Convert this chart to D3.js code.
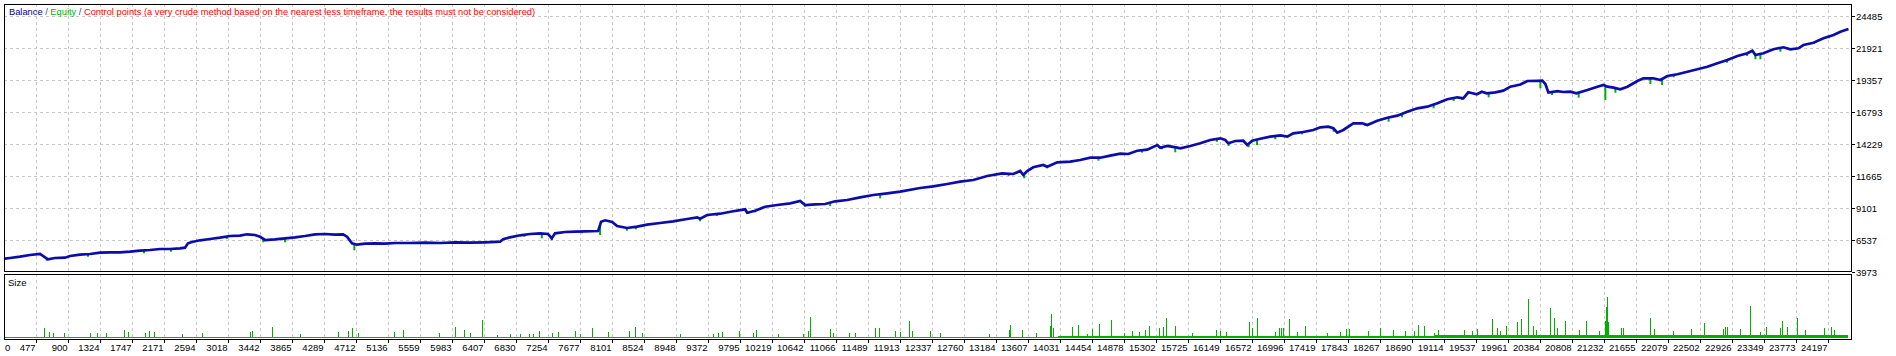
<!DOCTYPE html>
<html>
<head>
<meta charset="utf-8">
<script src="https://cdn.jsdelivr.net/npm/d3@7"></script>
<style>
  body { margin: 0; background: #fff; }
  svg { display: block; }
  text { font-family: "Liberation Sans", Arial, sans-serif; font-size: 9.5px; }
  .legend { font-size: 9.3px; }
</style>
</head>
<body>
<svg id="canvas" width="1896" height="356"></svg>
<script>
// value axis labels (right side)
const yTicks = [3973, 6537, 9101, 11665, 14229, 16793, 19357, 21921, 24485];

// trade number labels (bottom)
const xTicks = [0, 477, 900, 1324, 1747, 2171, 2594, 3018, 3442, 3865, 4289, 4712, 5136, 5559,
  5983, 6407, 6830, 7254, 7677, 8101, 8524, 8948, 9372, 9795, 10219, 10642, 11066, 11489,
  11913, 12337, 12760, 13184, 13607, 14031, 14454, 14878, 15302, 15725, 16149, 16572, 16996,
  17419, 17843, 18267, 18690, 19114, 19537, 19961, 20384, 20808, 21232, 21655, 22079, 22502,
  22926, 23349, 23773, 24197];

// balance: [trade, balance]
const balance = [
  [53, 5039], [132, 5095], [265, 5199], [397, 5335], [530, 5415], [583, 5199], [636, 4991],
  [728, 5095], [861, 5119], [927, 5255], [1059, 5359], [1192, 5415], [1324, 5519], [1456, 5551],
  [1589, 5551], [1721, 5600], [1854, 5680], [1986, 5736], [2118, 5816], [2251, 5816], [2383, 5872],
  [2449, 5920], [2489, 6273], [2542, 6377], [2648, 6513], [2780, 6617], [2913, 6721], [3045, 6858],
  [3178, 6882], [3270, 6994], [3376, 6938], [3442, 6801], [3509, 6537], [3641, 6593], [3773, 6673],
  [3906, 6753], [4038, 6858], [4171, 6994], [4303, 7018], [4435, 6962], [4541, 6994], [4594, 6801],
  [4660, 6273], [4727, 6160], [4833, 6241], [4965, 6273], [5097, 6241], [5230, 6297], [5428, 6297],
  [5627, 6321], [5826, 6297], [6024, 6353], [6223, 6321], [6421, 6353], [6620, 6401], [6660, 6593],
  [6752, 6753], [6885, 6914], [7017, 7018], [7150, 7074], [7255, 7018], [7304, 6673], [7348, 7074],
  [7481, 7178], [7613, 7202], [7745, 7234], [7918, 7258], [7957, 8003], [8010, 8115], [8103, 7979],
  [8169, 7659], [8301, 7499], [8434, 7603], [8566, 7763], [8738, 7899], [8910, 8035], [9096, 8220],
  [9228, 8356], [9268, 8244], [9361, 8540], [9533, 8644], [9705, 8837], [9864, 8997], [9890, 8724],
  [9996, 8885], [10129, 9205], [10287, 9341], [10460, 9478], [10592, 9662], [10658, 9341],
  [10791, 9397], [10923, 9422], [11055, 9638], [11214, 9742], [11386, 9958], [11559, 10143],
  [11744, 10279], [11916, 10407], [12180, 10704], [12353, 10840], [12538, 11024], [12710, 11208],
  [12883, 11345], [13068, 11665], [13266, 11881], [13412, 11825], [13505, 12066], [13545, 11745],
  [13597, 12066], [13677, 12362], [13809, 12546], [13862, 12410], [13995, 12763], [14167, 12811],
  [14299, 12947], [14432, 13131], [14564, 13131], [14696, 13292], [14829, 13452], [14935, 13428],
  [15054, 13692], [15186, 13772], [15319, 14149], [15358, 13933], [15451, 14069], [15583, 13933],
  [15623, 13884], [15756, 14069], [15888, 14285], [16020, 14549], [16153, 14686], [16219, 14549],
  [16259, 14285], [16351, 14469], [16457, 14493], [16510, 14149], [16576, 14493], [16682, 14654],
  [16815, 14814], [16947, 14926], [17040, 14814], [17119, 15086], [17252, 15191], [17384, 15351],
  [17477, 15567], [17583, 15615], [17649, 15487], [17702, 15134], [17781, 15351], [17914, 15888],
  [18033, 15888], [18099, 15751], [18231, 16096], [18364, 16336], [18496, 16497], [18628, 16817],
  [18761, 17089], [18893, 17218], [19026, 17490], [19158, 17811], [19290, 17971], [19370, 17891],
  [19436, 18371], [19549, 18211], [19615, 18420], [19681, 18291], [19794, 18371], [19900, 18500],
  [19992, 18820], [20125, 18996], [20217, 19277], [20350, 19293], [20416, 19301], [20456, 19037],
  [20496, 18355], [20615, 18460], [20694, 18396], [20787, 18420], [20866, 18291], [21012, 18556],
  [21145, 18820], [21224, 18956], [21277, 18820], [21357, 18740], [21449, 18612], [21542, 18820],
  [21674, 19277], [21754, 19493], [21886, 19493], [21978, 19357], [22071, 19678], [22203, 19814],
  [22336, 20022], [22468, 20214], [22600, 20423], [22733, 20695], [22865, 20960], [22998, 21280],
  [23130, 21496], [23196, 21705], [23236, 21360], [23342, 21496], [23475, 21817], [23607, 21977],
  [23700, 21817], [23806, 21897], [23872, 22161], [24005, 22346], [24137, 22698], [24270, 22963],
  [24362, 23227], [24468, 23443]
];

// equity drawdowns below balance: [trade, equity]
const equityDips = [
  [618, 4878], [1165, 5199], [1907, 5471], [2264, 5600], [3001, 6617], [3486, 6353], [3773, 6353],
  [4634, 6457], [4691, 5712], [4965, 6192], [6942, 6801], [7172, 6673], [7304, 6537], [7702, 7074],
  [7944, 6938], [8298, 7282], [8417, 7394], [9268, 8035], [9489, 8460], [9907, 8620], [9996, 8756],
  [10658, 9205], [10989, 9261], [11651, 9878], [12489, 10864], [12931, 11481], [13350, 11665],
  [13558, 11481], [13858, 12282], [14541, 12891], [15116, 13532], [15381, 13804], [15557, 13564],
  [16109, 14413], [16263, 14069], [16527, 13965], [16639, 14149], [16881, 14606], [17235, 15006],
  [17653, 15215], [18073, 15671], [18381, 16016], [18559, 16368], [18977, 17089], [19242, 17674],
  [19353, 17755], [19705, 17971], [20390, 18692], [20545, 18155], [20897, 17939], [21250, 17755],
  [21383, 18339], [21846, 19037], [22001, 18956], [22155, 19573], [22861, 20743], [23126, 21280],
  [23236, 21016], [23302, 21016], [23567, 21625], [24008, 22242], [24207, 22698]
];

// usual lot size over trade ranges: [from, to, lots]
const sizeBase = [[53, 14000, 0.01], [14000, 19000, 0.02], [19000, 24468, 0.03]];

// larger positions: [trade, lots]
const sizeSpikes = [
  [587, 0.10], [653, 0.06], [706, 0.05], [851, 0.05], [1192, 0.05], [1280, 0.05], [1403, 0.05],
  [1646, 0.08], [1699, 0.06], [1920, 0.05], [1977, 0.07], [2043, 0.06], [2406, 0.04], [2671, 0.05],
  [3310, 0.06], [3340, 0.07], [3597, 0.11], [3972, 0.04], [4479, 0.06], [4604, 0.07], [4664, 0.10],
  [4744, 0.05], [5221, 0.06], [5340, 0.08], [5816, 0.05], [6028, 0.11], [6147, 0.08], [6223, 0.05],
  [6386, 0.18], [6584, 0.03], [6752, 0.04], [6885, 0.04], [7008, 0.04], [7061, 0.04], [7140, 0.07],
  [7305, 0.05], [7392, 0.06], [7613, 0.07], [7679, 0.04], [7842, 0.10], [8054, 0.06], [8332, 0.07],
  [8411, 0.11], [8496, 0.05], [9003, 0.04], [9436, 0.04], [9510, 0.05], [9555, 0.06], [9788, 0.07],
  [9966, 0.05], [10013, 0.08], [10292, 0.04], [10628, 0.04], [10702, 0.07], [10728, 0.21],
  [10989, 0.09], [11033, 0.05], [11232, 0.05], [11320, 0.05], [11576, 0.10], [11629, 0.10],
  [11850, 0.07], [11907, 0.06], [12039, 0.17], [12071, 0.07], [12304, 0.07], [12446, 0.05],
  [13085, 0.04], [13350, 0.08], [13363, 0.13], [13527, 0.08], [13717, 0.05], [13893, 0.12],
  [13906, 0.24], [13938, 0.10], [14189, 0.11], [14264, 0.13], [14388, 0.04], [14454, 0.09],
  [14541, 0.14], [14706, 0.18], [14873, 0.05], [14984, 0.07], [15071, 0.06], [15151, 0.08],
  [15204, 0.12], [15336, 0.10], [15394, 0.11], [15429, 0.20], [15557, 0.12], [15778, 0.05],
  [16096, 0.08], [16153, 0.07], [16228, 0.06], [16527, 0.16], [16572, 0.10], [16643, 0.20],
  [16881, 0.06], [16925, 0.10], [16956, 0.10], [16983, 0.10], [17062, 0.19], [17168, 0.06],
  [17278, 0.12], [17565, 0.05], [17742, 0.06], [17821, 0.09], [17852, 0.09], [18103, 0.07],
  [18262, 0.10], [18439, 0.08], [18593, 0.07], [18721, 0.07], [18765, 0.13], [18844, 0.12],
  [18977, 0.05], [19030, 0.08], [19374, 0.08], [19485, 0.07], [19551, 0.09], [19750, 0.19],
  [19816, 0.10], [19860, 0.07], [19930, 0.12], [20081, 0.16], [20134, 0.19], [20222, 0.39],
  [20293, 0.12], [20337, 0.08], [20513, 0.30], [20566, 0.20], [20611, 0.10], [20711, 0.17],
  [20897, 0.08], [20999, 0.17], [21162, 0.07], [21241, 0.17], [21254, 0.31], [21267, 0.41],
  [21286, 0.16], [21458, 0.10], [21485, 0.10], [21837, 0.20], [21899, 0.09], [22146, 0.07],
  [22385, 0.09], [22552, 0.15], [22809, 0.09], [22839, 0.11], [22862, 0.11], [23038, 0.09],
  [23161, 0.32], [23293, 0.06], [23378, 0.11], [23567, 0.10], [23590, 0.17], [23656, 0.11],
  [23788, 0.20], [23898, 0.08], [24140, 0.10], [24238, 0.11], [24273, 0.08]
];

const balanceColor = "#0c0cac";
const equityColor = "#00b000";
const gridColor = "#c8c8c8";

const main = { left: 4, right: 1851, top: 4, bottom: 272 };
const sub = { top: 274, bottom: 339 };

const x = d3.scaleLinear().domain([477, 24197]).range([36, 1828]);
const y = d3.scaleLinear().domain([3973, 24485]).range([272, 16]);
const size = d3.scaleLinear().domain([0, 0.64]).range([338, 274]);

function balanceAt(n) {
  const i = d3.bisector(d => d[0]).left(balance, n);
  if (i <= 0) return balance[0][1];
  if (i >= balance.length) return balance[balance.length - 1][1];
  const a = balance[i - 1], b = balance[i];
  return a[1] + (b[1] - a[1]) * (n - a[0]) / (b[0] - a[0]);
}

function drawGrid(svg) {
  const g = svg.append("g")
    .attr("stroke", gridColor)
    .attr("stroke-dasharray", "3,3")
    .attr("shape-rendering", "crispEdges");

  const gridX = xTicks.filter(t => t > 0);
  g.selectAll("line.vx")
    .data(gridX)
    .enter()
    .append("line")
    .attr("x1", d => Math.round(x(d)) + 0.5)
    .attr("x2", d => Math.round(x(d)) + 0.5)
    .attr("y1", main.top)
    .attr("y2", main.bottom);
  g.selectAll("line.sx")
    .data(gridX)
    .enter()
    .append("line")
    .attr("x1", d => Math.round(x(d)) + 0.5)
    .attr("x2", d => Math.round(x(d)) + 0.5)
    .attr("y1", sub.top)
    .attr("y2", sub.bottom);
  g.selectAll("line.hy")
    .data(yTicks.slice(1))
    .enter()
    .append("line")
    .attr("x1", main.left)
    .attr("x2", main.right)
    .attr("y1", d => Math.round(y(d)) + 0.5)
    .attr("y2", d => Math.round(y(d)) + 0.5);
}

function drawSize(svg) {
  const g = svg.append("g").attr("fill", equityColor).attr("shape-rendering", "crispEdges");
  g.selectAll("rect.base")
    .data(sizeBase)
    .enter()
    .append("rect")
    .attr("x", d => Math.round(x(d[0])))
    .attr("width", d => Math.round(x(d[1])) - Math.round(x(d[0])))
    .attr("y", d => size(d[2]))
    .attr("height", d => size(0) - size(d[2]));
  g.selectAll("rect.spike")
    .data(sizeSpikes)
    .enter()
    .append("rect")
    .attr("x", d => Math.round(x(d[0])))
    .attr("width", 1)
    .attr("y", d => Math.round(size(d[1])))
    .attr("height", d => size(0) - Math.round(size(d[1])));
}

function drawLines(svg) {
  svg.append("clipPath")
    .attr("id", "clip-main")
    .append("rect")
    .attr("x", main.left + 1)
    .attr("y", main.top + 1)
    .attr("width", main.right - main.left - 1)
    .attr("height", main.bottom - main.top - 1);

  const g = svg.append("g").attr("clip-path", "url(#clip-main)");

  g.selectAll("line.dip")
    .data(equityDips)
    .enter()
    .append("line")
    .attr("x1", d => x(d[0]))
    .attr("x2", d => x(d[0]))
    .attr("y1", d => y(balanceAt(d[0])))
    .attr("y2", d => y(d[1]))
    .attr("stroke", equityColor)
    .attr("stroke-width", 2);

  const line = d3.line().x(d => x(d[0])).y(d => y(d[1]));
  g.append("path")
    .datum(balance)
    .attr("d", line)
    .attr("fill", "none")
    .attr("stroke", balanceColor)
    .attr("stroke-width", 2.7)
    .attr("stroke-linejoin", "miter");
}

function drawFrames(svg) {
  const g = svg.append("g")
    .attr("fill", "none")
    .attr("stroke", "#000")
    .attr("shape-rendering", "crispEdges");
  g.append("rect")
    .attr("x", main.left + 0.5)
    .attr("y", main.top + 0.5)
    .attr("width", main.right - main.left)
    .attr("height", main.bottom - main.top - 1);
  g.append("rect")
    .attr("x", main.left + 0.5)
    .attr("y", sub.top + 0.5)
    .attr("width", main.right - main.left)
    .attr("height", sub.bottom - sub.top);

  // value ticks on the right border
  g.selectAll("line.ty")
    .data(yTicks)
    .enter()
    .append("line")
    .attr("x1", main.right + 1)
    .attr("x2", main.right + 4)
    .attr("y1", d => Math.round(y(d)) + 0.5)
    .attr("y2", d => Math.round(y(d)) + 0.5);

  // trade ticks under the size panel
  g.selectAll("line.tx")
    .data(xTicks.filter(t => t > 0))
    .enter()
    .append("line")
    .attr("x1", d => Math.round(x(d)) + 0.5)
    .attr("x2", d => Math.round(x(d)) + 0.5)
    .attr("y1", sub.bottom + 1)
    .attr("y2", sub.bottom + 4);
}

function drawLabels(svg) {
  svg.selectAll("text.ylab")
    .data(yTicks)
    .enter()
    .append("text")
    .attr("x", main.right + 5)
    .attr("y", d => Math.round(y(d)) + 3.5)
    .attr("fill", "#000")
    .text(d => d);

  svg.selectAll("text.xlab")
    .data(xTicks)
    .enter()
    .append("text")
    .attr("x", d => (d === 0 ? main.left + 1 : Math.round(x(d)) - 0.5))
    .attr("y", 351)
    .attr("text-anchor", d => (d === 0 ? "start" : "end"))
    .attr("fill", "#000")
    .text(d => d);

  const legend = svg.append("text").attr("class", "legend").attr("x", 9).attr("y", 15);
  legend.append("tspan").attr("fill", "#00008c").text("Balance");
  legend.append("tspan").attr("fill", "#2050a0").text(" / ");
  legend.append("tspan").attr("fill", equityColor).text("Equity");
  legend.append("tspan").attr("fill", "#2050a0").text(" / ");
  legend.append("tspan").attr("fill", "#ff0000")
    .text("Control points (a very crude method based on the nearest less timeframe, the results must not be considered)");

  svg.append("text").attr("x", 8).attr("y", 286).attr("fill", "#000").text("Size");
}

function main_() {
  const svg = d3.select("#canvas");
  drawGrid(svg);
  drawSize(svg);
  drawLines(svg);
  drawFrames(svg);
  drawLabels(svg);
}

main_();
</script>
</body>
</html>
